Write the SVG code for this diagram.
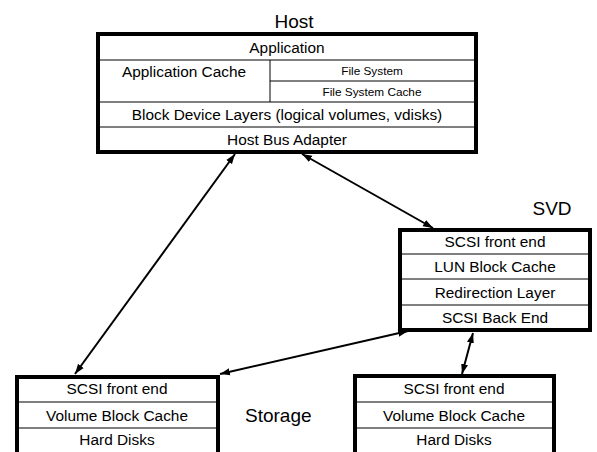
<svg xmlns="http://www.w3.org/2000/svg" width="597" height="452" viewBox="0 0 597 452">
  <style>
    .box { fill: #ffffff; stroke: #000000; stroke-width: 4; }
    .div { stroke: #000000; stroke-width: 1; fill: none; }
    .row { font-family: "Liberation Sans", Arial, sans-serif; font-size: 15.4px; fill: #000000; text-anchor: middle; }
    .small { font-family: "Liberation Sans", Arial, sans-serif; font-size: 11.8px; fill: #000000; text-anchor: middle; }
    .title { font-family: "Liberation Sans", Arial, sans-serif; font-size: 19px; fill: #000000; }
    .link { stroke: #000000; stroke-width: 2; fill: none; marker-start: url(#head); marker-end: url(#head); }
  </style>
  <defs>
    <marker id="head" viewBox="0 0 10 8" refX="10" refY="4" markerWidth="10" markerHeight="8" markerUnits="userSpaceOnUse" orient="auto-start-reverse">
      <path d="M0,0.5 L10,4 L0,7.5 z" fill="#000000"/>
    </marker>
  </defs>
  <rect width="597" height="452" fill="#ffffff"/>

  <!-- Host stack -->
  <g id="host">
    <text class="title" x="294" y="28" text-anchor="middle">Host</text>
    <rect class="box" x="98" y="34" width="378" height="118"/>
    <line class="div" x1="98" y1="60" x2="476" y2="60"/>
    <line class="div" x1="270" y1="60" x2="270" y2="102"/>
    <line class="div" x1="270" y1="81" x2="476" y2="81"/>
    <line class="div" x1="98" y1="102" x2="476" y2="102"/>
    <line class="div" x1="98" y1="127" x2="476" y2="127"/>
    <text class="row" x="287" y="53">Application</text>
    <text class="row" x="184" y="77">Application Cache</text>
    <text class="small" x="372" y="75">File System</text>
    <text class="small" x="372" y="96">File System Cache</text>
    <text class="row" x="287" y="120">Block Device Layers (logical volumes, vdisks)</text>
    <text class="row" x="287" y="145">Host Bus Adapter</text>
  </g>

  <!-- SVD stack -->
  <g id="svd">
    <text class="title" x="552" y="215" text-anchor="middle">SVD</text>
    <rect class="box" x="400" y="230" width="190" height="100"/>
    <line class="div" x1="400" y1="254" x2="590" y2="254"/>
    <line class="div" x1="400" y1="279" x2="590" y2="279"/>
    <line class="div" x1="400" y1="305" x2="590" y2="305"/>
    <text class="row" x="495" y="247">SCSI front end</text>
    <text class="row" x="495" y="272">LUN Block Cache</text>
    <text class="row" x="495" y="298">Redirection Layer</text>
    <text class="row" x="495" y="323">SCSI Back End</text>
  </g>

  <!-- Storage array, left -->
  <g id="storage-left">
    <rect class="box" x="17" y="377" width="201" height="80"/>
    <line class="div" x1="17" y1="402" x2="218" y2="402"/>
    <line class="div" x1="17" y1="428" x2="218" y2="428"/>
    <text class="row" x="117" y="394">SCSI front end</text>
    <text class="row" x="117" y="421">Volume Block Cache</text>
    <text class="row" x="117" y="445">Hard Disks</text>
  </g>

  <text id="storage-label" class="title" x="245" y="422">Storage</text>

  <!-- Storage array, right -->
  <g id="storage-right">
    <rect class="box" x="355" y="376" width="199" height="80"/>
    <line class="div" x1="355" y1="402" x2="554" y2="402"/>
    <line class="div" x1="355" y1="428" x2="554" y2="428"/>
    <text class="row" x="454" y="394">SCSI front end</text>
    <text class="row" x="454" y="421">Volume Block Cache</text>
    <text class="row" x="454" y="445">Hard Disks</text>
  </g>

  <!-- Connectors -->
  <g id="connectors">
    <line class="link" x1="235" y1="154" x2="75" y2="374"/>
    <line class="link" x1="302" y1="154" x2="433" y2="228"/>
    <line class="link" x1="408" y1="331" x2="220" y2="374"/>
    <line class="link" x1="473" y1="333" x2="462" y2="374"/>
  </g>
</svg>
